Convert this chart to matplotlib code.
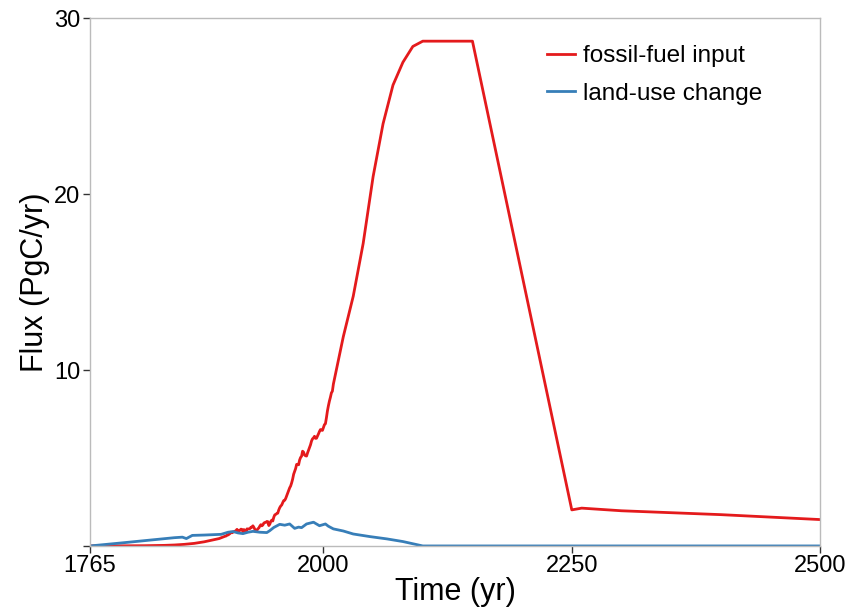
import matplotlib.pyplot as plt

# fossil-fuel emissions (PgC/yr): historical record, then the scenario
ff_years = [1765, 1780, 1800, 1820, 1840, 1850, 1860, 1870, 1880, 1890, 1895] + list(range(1900, 2011)) + \
    [2020, 2030, 2040, 2050, 2060, 2070, 2080, 2090, 2100, 2150, 2250, 2260, 2300, 2400, 2500]
ff_values = [
    0.003, 0.004, 0.008, 0.014, 0.033, 0.054, 0.091, 0.147, 0.236, 0.356, 0.42,
    # 1900-1949
    0.534, 0.552, 0.566, 0.617, 0.624, 0.663, 0.707, 0.784, 0.750, 0.785,
    0.819, 0.836, 0.879, 0.943, 0.850, 0.838, 0.901, 0.955, 0.936, 0.806,
    0.932, 0.803, 0.845, 0.970, 0.963, 0.975, 0.983, 1.062, 1.065, 1.145,
    1.053, 0.940, 0.847, 0.893, 0.973, 1.027, 1.130, 1.209, 1.142, 1.192,
    1.299, 1.334, 1.342, 1.391, 1.383, 1.160, 1.238, 1.392, 1.469, 1.419,
    # 1950-2010
    1.630, 1.768, 1.796, 1.841, 1.865, 2.043, 2.178, 2.270, 2.330, 2.462,
    2.577, 2.594, 2.700, 2.848, 3.008, 3.145, 3.305, 3.411, 3.588, 3.800,
    4.076, 4.231, 4.399, 4.635, 4.644, 4.615, 4.883, 5.029, 5.105, 5.387,
    5.332, 5.168, 5.127, 5.110, 5.290, 5.444, 5.610, 5.753, 5.964, 6.089,
    6.144, 6.235, 6.118, 6.124, 6.242, 6.372, 6.510, 6.619, 6.588, 6.569,
    6.735, 6.896, 6.949, 7.286, 7.672, 7.971, 8.234, 8.450, 8.700, 8.800,
    9.200,
    # scenario
    11.9, 14.2, 17.2, 21.0, 24.0, 26.2, 27.5, 28.4, 28.7, 28.7, 2.05, 2.15, 2.0, 1.78, 1.5,
]

# land-use change emissions (PgC/yr)
lu_years = [1765, 1800, 1850, 1858, 1862, 1868, 1880, 1897, 1904, 1909, 1914, 1919, 1924,
            1929, 1936, 1943, 1946, 1950, 1956, 1961, 1966, 1971, 1975, 1978, 1983, 1990,
            1993, 1996, 2002, 2005, 2010, 2020, 2030, 2047, 2064, 2080, 2100, 2500]
lu_values = [0.0, 0.19, 0.47, 0.5, 0.42, 0.6, 0.62, 0.66, 0.78, 0.82, 0.74, 0.7, 0.78,
             0.83, 0.78, 0.76, 0.87, 1.05, 1.23, 1.18, 1.25, 1.0, 1.07, 1.04, 1.25, 1.35,
             1.25, 1.15, 1.25, 1.12, 0.97, 0.85, 0.68, 0.53, 0.4, 0.25, 0.0, 0.0]

x_ticks = [1765, 2000, 2250, 2500]
y_ticks = [0, 10, 20, 30]
y_tick_labels = ["", "10", "20", "30"]

plt.rcParams["font.family"] = ["Liberation Sans", "DejaVu Sans"]

fig = plt.figure(figsize=(8.49, 6.10), dpi=100)
ax = fig.add_axes([0.106, 0.105, 0.86, 0.865])

ax.plot(ff_years, ff_values, color="#e41a1c", lw=2, label="fossil-fuel input")
ax.plot(lu_years, lu_values, color="#377eb8", lw=2, label="land-use change")

ax.set_xlim(1765, 2500)
ax.set_ylim(0, 30)
ax.set_xticks(x_ticks)
ax.set_yticks(y_ticks)
ax.set_yticklabels(y_tick_labels)
ax.tick_params(labelsize=17, length=5, width=1, color="#333333", direction="out")
ax.tick_params(axis="x", pad=1.5)
ax.tick_params(axis="y", pad=2)

for s in ax.spines.values():
    s.set_color("#bbbbbb")
    s.set_linewidth(1)

ax.set_xlabel("Time (yr)", fontsize=22, labelpad=0)
ax.set_ylabel("Flux (PgC/yr)", fontsize=22, labelpad=3)

ax.legend(loc="upper right", bbox_to_anchor=(0.95, 0.99), frameon=False, fontsize=17.5,
          handlelength=1.15, handletextpad=0.3, labelspacing=0.62)

fig.savefig("out.png", dpi=100)
plt.close(fig)
